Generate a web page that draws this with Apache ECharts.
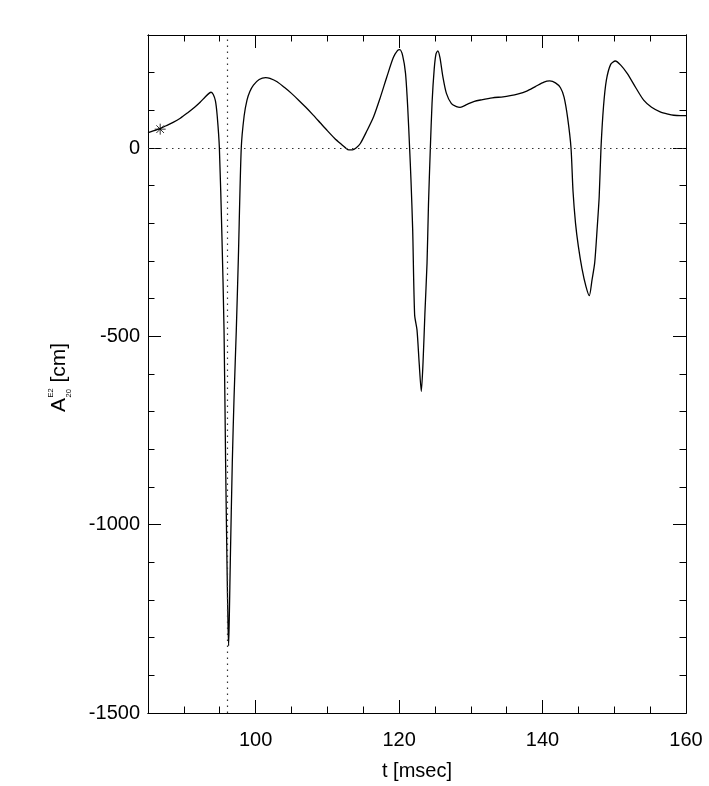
<!DOCTYPE html>
<html>
<head>
<meta charset="utf-8">
<script src="https://cdn.jsdelivr.net/npm/echarts@6/dist/echarts.min.js"></script>
<style>
  html, body { margin: 0; padding: 0; background: #fff; }
  #chart { width: 709px; height: 786px; }
</style>
</head>
<body>
<div id="chart"></div>
<script>
// time axis [msec] and amplitude A20 [cm]
const tValues = [
  85.0, 86.0, 86.7, 87.5, 88.5, 89.5, 90.5, 91.5, 92.3, 93.0, 93.5, 93.8, 94.1, 94.4, 94.65,
  94.95, 95.3, 95.6, 95.82, 96.01, 96.15, 96.24, 96.35, 96.47, 96.75, 97.0, 97.31, 97.6, 98.0, 98.4,
  98.8, 99.2, 99.7, 100.5, 101.4, 102.0, 103.0, 104.0, 105.0, 106.0, 107.0, 108.0, 109.0, 110.0, 111.0,
  112.0, 112.5, 113.0, 113.5, 114.0, 114.6, 115.5, 116.45, 117.4, 118.3, 119.2, 119.8, 120.1, 120.5, 120.9,
  121.2, 121.47, 121.66, 121.9, 122.17, 122.5, 122.8, 123.1, 123.34, 123.6, 123.9, 124.1, 124.36, 124.6, 124.9,
  125.15, 125.4, 125.7, 126.1, 126.6, 127.3, 128.0, 128.5, 129.5, 130.5, 131.5, 133.0, 134.5, 135.5, 136.5,
  137.8, 139.0, 140.2, 141.0, 141.8, 142.5, 143.0, 143.5, 143.97, 144.25, 144.6, 145.0, 145.5, 146.06, 146.52,
  146.9, 147.27, 147.6, 147.9, 148.15, 148.5, 148.9, 149.5, 150.15, 150.9, 151.8, 153.0, 154.1, 155.2, 156.4,
  157.5, 158.3, 159.2, 160.0
];
const aValues = [
  41, 47, 52, 59, 68, 79, 93, 108, 122, 136, 145, 148, 142, 125, 85,
  0, -230, -483, -836, -1101, -1260, -1322, -1230, -1101, -836, -660, -483, -290, 0, 85,
  127, 150, 167, 182, 187, 185, 176, 161, 145, 127, 108, 88, 67, 46, 26,
  9, 1, -5, -5, 0, 12, 45, 83, 135, 189, 240, 259, 261, 245, 198,
  110, 0, -85, -218, -443, -483, -570, -646, -570, -440, -305, -150, 0, 120, 210,
  250, 258, 240, 190, 145, 118, 110, 108, 116, 124, 128, 133, 136, 139, 143,
  151, 163, 175, 178, 173, 160, 135, 80, 0, -115, -200, -262, -320, -368, -392,
  -350, -305, -218, -129, 0, 110, 180, 222, 231, 220, 198, 160, 127, 108, 96,
  90, 87, 86, 86
];
const starT = [86.7];
const starA = [50];
const zeroLevel = 0;
const tMark = 96;

const xMajorTicks = [100, 120, 140, 160];
const xMinorTicks = [90, 95, 105, 110, 115, 125, 130, 135, 145, 150, 155];
const yMajorTicks = [-1500, -1000, -500, 0];
const yMinorTicks = [-1400, -1300, -1200, -1100, -900, -800, -700, -600, -400, -300, -200, -100, 100, 200];

const FONT = "'Liberation Sans', Arial, Helvetica, sans-serif";
const X_MIN = 85, X_MAX = 160, Y_MIN = -1500, Y_MAX = 300;

const chart = echarts.init(document.getElementById('chart'));

function xAxisOf (position, ticks, len, withLabels) {
  return {
    type: 'value',
    position: position,
    min: X_MIN,
    max: X_MAX,
    axisLine: { show: true, onZero: false, lineStyle: { color: '#000', width: 1 } },
    axisTick: { show: true, inside: true, length: len, customValues: ticks, lineStyle: { color: '#000', width: 1 } },
    axisLabel: withLabels
      ? { show: true, customValues: ticks, color: '#000', fontSize: 20, fontFamily: FONT, margin: 17,
          formatter: (v) => String(v) }
      : { show: false },
    splitLine: { show: false }
  };
}

function yAxisOf (position, ticks, len, withLabels) {
  return {
    type: 'value',
    position: position,
    min: Y_MIN,
    max: Y_MAX,
    axisLine: { show: true, onZero: false, lineStyle: { color: '#000', width: 1 } },
    axisTick: { show: true, inside: true, length: len, customValues: ticks, lineStyle: { color: '#000', width: 1 } },
    axisLabel: withLabels
      ? { show: true, customValues: ticks, color: '#000', fontSize: 20, fontFamily: FONT, margin: 8,
          formatter: (v) => String(v) }
      : { show: false },
    splitLine: { show: false }
  };
}

const xBottom = xAxisOf('bottom', xMajorTicks, 13, true);
xBottom.name = 't [msec]';
xBottom.nameLocation = 'middle';
xBottom.nameGap = 48;
xBottom.nameTextStyle = { color: '#000', fontSize: 20, fontFamily: FONT };

const lineData = tValues.map((t, i) => [t, aValues[i]]);
const starData = starT.map((t, i) => [t, starA[i]]);

chart.setOption({
  animation: false,
  backgroundColor: '#fff',
  grid: { left: 148, right: 23, top: 35, bottom: 72 },
  xAxis: [
    xBottom,
    xAxisOf('bottom', xMinorTicks, 6.5, false),
    xAxisOf('top', xMajorTicks, 13, false),
    xAxisOf('top', xMinorTicks, 6.5, false)
  ],
  yAxis: [
    yAxisOf('left', yMajorTicks, 13, true),
    yAxisOf('left', yMinorTicks, 6.5, false),
    yAxisOf('right', yMajorTicks, 13, false),
    yAxisOf('right', yMinorTicks, 6.5, false)
  ],
  graphic: [
    {
      type: 'group',
      x: 59.5,
      y: 412,
      rotation: Math.PI / 2,
      children: [
        { type: 'text', x: 0, y: 0, style: { text: 'A', font: '21px ' + FONT, fill: '#000', verticalAlign: 'middle' } },
        { type: 'text', x: 14.5, y: -9, style: { text: 'E2', font: '7.5px ' + FONT, fill: '#000', verticalAlign: 'middle' } },
        { type: 'text', x: 14.5, y: 9.5, style: { text: '20', font: '7.5px ' + FONT, fill: '#000', verticalAlign: 'middle' } },
        { type: 'text', x: 29.5, y: 0, style: { text: '[cm]', font: '21px ' + FONT, fill: '#000', verticalAlign: 'middle' } }
      ]
    }
  ],
  series: [
    {
      type: 'line',
      data: lineData,
      smooth: 0.25,
      showSymbol: false,
      lineStyle: { color: '#000', width: 1.3 },
      markLine: {
        silent: true,
        symbol: 'none',
        label: { show: false },
        lineStyle: { color: '#333', width: 1.2, type: [1.5, 4.5] },
        data: [{ yAxis: zeroLevel }, { xAxis: tMark }]
      },
      z: 3
    },
    {
      type: 'scatter',
      data: starData,
      symbol: 'path://M5,0L5,10M0,5L10,5M1.5,1.5L8.5,8.5M8.5,1.5L1.5,8.5',
      symbolSize: 11,
      itemStyle: { color: 'none', borderColor: '#000', borderWidth: 1 },
      z: 4
    }
  ]
});
</script>
</body>
</html>
